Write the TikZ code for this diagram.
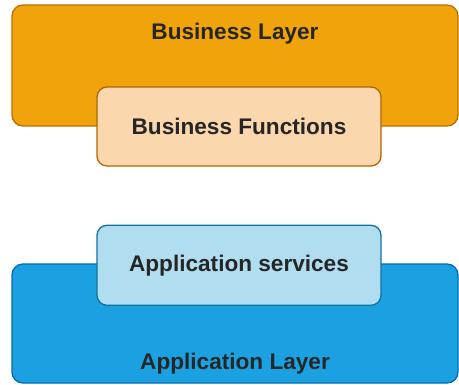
\documentclass[tikz,border=0pt]{standalone}
\usepackage{fontspec}
\setmainfont{Liberation Sans}
\usepackage{xcolor}
\usetikzlibrary{positioning}
\definecolor{bizfill}{HTML}{F0A30A}
\definecolor{bizline}{HTML}{BD7000}
\definecolor{funfill}{HTML}{FAD7AC}
\definecolor{funline}{HTML}{B46504}
\definecolor{svcfill}{HTML}{B1DDF0}
\definecolor{svcline}{HTML}{10739E}
\definecolor{appfill}{HTML}{1BA1E2}
\definecolor{appline}{HTML}{006EAF}
\begin{document}
\begin{tikzpicture}[
		x = 1pt, y = -1pt,
		font = \fontsize{22.6}{26}\selectfont\bfseries,
		layerbox/.style = {rectangle, rounded corners = 11pt, line width = 1.3pt, minimum width = 446pt, inner sep = 0pt},
		innerbox/.style = {rectangle, rounded corners = 10pt, line width = 1.3pt, minimum width = 284pt, minimum height = 79pt, inner sep = 0pt}
		]
\useasboundingbox (0,0) rectangle (459,384);
\node[layerbox, draw = bizline, fill = bizfill, minimum height = 121pt,
	label = {[anchor = center, yshift = -29.5pt, text = black!85]north:Business Layer}] (bizlayer) at (235,65.5){};
\node[innerbox, draw = funline, fill = funfill, text = black!85] (bizfun) at (239,126.5){Business Functions};

\node[layerbox, draw = appline, fill = appfill, minimum height = 119pt,
	label = {[anchor = center, yshift = 19.5pt, text = black!85]south:Application Layer}] (applayer) at (235,323.5){};
\node[innerbox, draw = svcline, fill = svcfill, text = black!85, minimum height = 80pt][below = 58pt of {bizfun}] (appsvc){Application services};

\end{tikzpicture}
\end{document}
